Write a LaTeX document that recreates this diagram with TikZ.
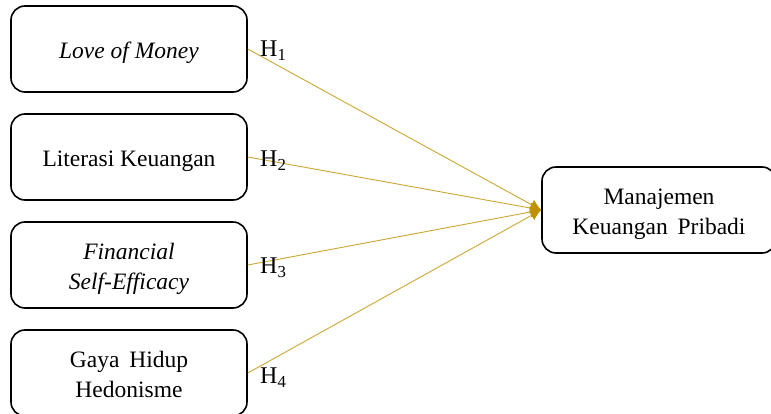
\documentclass[tikz,border=0pt]{standalone}
\usepackage{fontspec}
\setmainfont{Liberation Serif}
\usetikzlibrary{arrows.meta}
\definecolor{gold}{RGB}{191,144,0}
\newcommand{\wsp}{\hspace{0.42em}}
% box text, set a little below the box centre
\newcommand{\boxtext}[1]{\raisebox{-9.4pt}[0pt][0pt]{\begin{tabular}{@{}c@{}}#1\end{tabular}}}
\begin{document}
\begin{tikzpicture}[x=1pt,y=-1pt,
  box/.style={draw=black,line width=1.6pt,rounded corners=14pt,fill=white,
    minimum width=236pt,minimum height=86pt,align=center,
    font=\fontsize{23.5}{30}\selectfont,inner sep=0pt},
  link/.style={draw=gold!80!white,line width=0.9pt,
    -{Latex[length=11pt,width=11pt,color=gold]}},
  hyp/.style={font=\fontsize{24}{28}\selectfont,anchor=west,inner sep=0pt}]
\useasboundingbox (0,0) rectangle (771,414);
\begin{scope}
\clip (0,0) rectangle (771,414);
\node[box] (lom) at (129,49) {\boxtext{\textit{Love of Money}}};
\node[box] (lit) at (129,157) {\boxtext{Literasi Keuangan}};
\node[box] (fse) at (129,265) {\boxtext{\textit{Financial}\\\textit{Self-Efficacy}}};
\node[box] (ghh) at (129,373) {\boxtext{Gaya\wsp Hidup\\Hedonisme}};
\node[box,minimum width=234pt] (mkp) at (659,210) {\boxtext{Manajemen\\Keuangan\wsp Pribadi}};
\end{scope}
\draw[link] (lom.east) -- (mkp.west);
\draw[link] (lit.east) -- (mkp.west);
\draw[link] (fse.east) -- (mkp.west);
\draw[link] (ghh.east) -- (mkp.west);
\node[hyp] (h1) at (260,51) {H\textsubscript{1}};
\node[hyp] (h2) at (260,161) {H\textsubscript{2}};
\node[hyp] (h3) at (260,268) {H\textsubscript{3}};
\node[hyp] (h4) at (260,378) {H\textsubscript{4}};
\end{tikzpicture}
\end{document}
